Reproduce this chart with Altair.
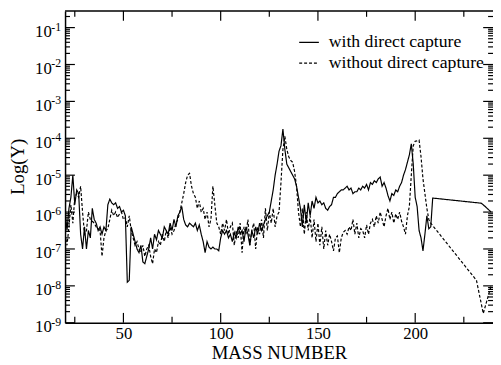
import altair as alt
import pandas as pd

FONT = "Liberation Serif"

# mass numbers start
A0 = 20
# log10(Y), "with direct capture", A = 20 .. 209
solid_log = [
    -6.0, -6.5, -5.9, -5.6, -5.0, -5.8, -5.4, -5.5, -6.6, -7.0,
    -6.4, -7.0, -6.5, -6.7, -5.9, -6.2, -6.3, -6.5, -6.4, -6.6,
    -6.4, -6.5, -5.8, -5.65, -5.75, -5.8, -5.75, -5.9, -5.85, -6.0,
    -5.95, -6.1, -7.9, -7.85, -6.4, -6.6, -6.8, -7.0, -7.1, -6.9,
    -7.35, -7.4, -7.2, -7.0, -6.7, -7.0, -6.6, -6.75, -6.5, -6.6,
    -6.7, -6.4, -6.5, -6.6, -6.3, -6.5, -6.2, -6.4, -6.1, -6.0,
    -5.85, -6.2, -6.35, -6.4, -6.3, -6.35, -6.4, -6.3, -6.5, -6.35,
    -6.6, -6.8, -7.1, -6.8, -6.95, -7.0, -6.95, -7.0, -7.0, -7.05,
    -6.7, -6.5, -6.6, -6.5, -6.7, -6.6, -6.8, -6.55, -6.7, -6.4,
    -6.6, -6.5, -6.8, -6.4, -6.6, -6.9, -6.5, -6.7, -6.4, -6.6,
    -6.3, -6.5, -6.35, -6.2, -6.1, -6.0, -5.7, -5.4, -5.0, -4.7,
    -4.35, -4.2, -3.75, -4.3, -4.7, -4.8, -4.9, -5.0, -5.1, -5.3,
    -5.6, -5.9, -6.4, -5.8, -6.3, -5.75, -6.1, -5.7, -5.9, -5.6,
    -5.75, -5.7, -5.8, -5.75, -5.9, -5.95, -5.85, -5.8, -5.6, -5.6,
    -5.5, -5.45, -5.4, -5.4, -5.35, -5.3, -5.4, -5.35, -5.5, -5.45,
    -5.45, -5.35, -5.4, -5.3, -5.35, -5.25, -5.4, -5.2, -5.25, -5.15,
    -5.2, -5.1, -5.05, -5.3, -5.2, -5.35, -5.55, -5.7, -5.5, -5.55,
    -5.4, -5.45, -5.3, -5.2, -5.0, -4.85, -4.65, -4.45, -4.15, -4.7,
    -5.6, -5.85, -6.5, -6.7, -7.05, -6.6, -6.1, -6.45, -6.4, -5.62,
]
solid_tail_A = [234, 236, 239]
solid_tail_log = [-5.76, -5.85, -6.0]

# log10(Y), "without direct capture", A = 20 .. 208
dashed_log = [
    -6.6, -6.9, -6.4, -5.8, -6.3, -5.6, -5.5, -5.6, -5.3, -6.0,
    -6.6, -6.5, -6.0, -6.2, -6.25, -6.3, -6.4, -6.45, -6.5, -7.2,
    -6.7, -6.5, -6.45, -6.2, -5.95, -6.1, -6.0, -6.15, -6.05, -6.0,
    -6.2, -6.15, -6.4, -6.1, -6.5, -6.7, -6.9, -6.8, -7.0, -7.1,
    -6.9, -7.2, -7.0, -6.9, -7.2, -7.4, -7.0, -7.1, -6.8, -6.9,
    -6.6, -6.8, -6.5, -6.7, -6.4, -6.6, -6.5, -6.3, -6.2, -6.0,
    -5.75, -5.5, -5.2, -5.0, -4.95, -5.3, -5.5, -5.6, -5.9, -5.7,
    -6.0, -5.9, -6.2, -6.0, -6.4, -6.2, -5.3, -5.8, -6.3, -6.4,
    -6.6, -6.3, -6.5, -6.2, -6.6, -6.4, -6.3, -6.9, -6.5, -6.7,
    -6.3, -7.1, -6.4, -6.6, -6.2, -6.9, -6.5, -6.3, -7.0, -6.4,
    -6.6, -6.2, -6.7, -5.9, -6.5, -6.0, -6.3, -5.9, -6.4, -6.1,
    -6.0, -5.2, -4.3, -3.95, -4.3, -4.5, -4.6, -4.65, -4.9, -5.3,
    -6.0, -6.4, -5.9, -6.6, -6.0, -6.5, -6.1, -6.7, -6.2, -6.8,
    -6.3, -6.9, -6.4, -7.0, -6.5, -6.9, -6.6, -6.8, -7.05, -6.7,
    -6.65, -7.1, -6.7, -6.55, -6.5, -6.6, -6.4, -6.5, -6.2, -6.6,
    -6.3, -6.7, -6.45, -6.5, -6.7, -6.35, -6.6, -6.3, -6.2, -6.4,
    -6.1, -6.3, -6.0, -6.2, -6.4, -6.1, -5.9, -6.2, -6.0, -6.3,
    -6.05, -6.2, -6.0, -6.25, -6.4, -6.6, -6.1, -5.85, -5.0, -4.2,
    -4.08, -4.07, -4.05, -4.5, -5.1, -5.5, -5.9, -6.2, -6.3,
]
dashed_tail_A = [231.5, 235, 239]
dashed_tail_log = [-7.85, -8.75, -8.0]

SERIES = ["with direct capture", "without direct capture"]
x_major = [50, 100, 150, 200]
x_minor = [25, 75, 125, 175, 225]
y_exps = [-9, -8, -7, -6, -5, -4, -3, -2, -1]
y_minor_mult = [2, 3, 4, 5, 6, 7, 8, 9]

W, H = 435, 317
Y_TOP = 10 ** -0.547

rows = []
for i, v in enumerate(solid_log):
    rows.append({"A": A0 + i, "Y": 10 ** v, "series": SERIES[0]})
for a, v in zip(solid_tail_A, solid_tail_log):
    rows.append({"A": a, "Y": 10 ** v, "series": SERIES[0]})
for i, v in enumerate(dashed_log):
    rows.append({"A": A0 + i, "Y": 10 ** v, "series": SERIES[1]})
for a, v in zip(dashed_tail_A, dashed_tail_log):
    rows.append({"A": a, "Y": 10 ** v, "series": SERIES[1]})
df = pd.DataFrame(rows)

xs = alt.Scale(domain=[20, 240], nice=False, zero=False)
ys = alt.Scale(type="log", domain=[1e-9, Y_TOP], nice=False)

lines = alt.Chart(df).mark_line(color="black", strokeWidth=1.2, clip=True).encode(
    x=alt.X("A:Q", scale=xs, axis=alt.Axis(
        values=x_major, title="MASS NUMBER", ticks=False, tickSize=0,
        labelPadding=3, titleBaseline="alphabetic", titleY=36)),
    y=alt.Y("Y:Q", scale=ys, axis=alt.Axis(
        values=[10.0 ** e for e in y_exps], labelExpr="'10'", title="Log(Y)",
        ticks=False, tickSize=0, labelPadding=14, labelOffset=4, labelBaseline="middle",
        titleAngle=270, titleBaseline="middle", titleAlign="center",
        titleX=-48, titleY=158)),
    strokeDash=alt.StrokeDash("series:N", scale=alt.Scale(domain=SERIES, range=[[1, 0], [3, 2]]),
        legend=alt.Legend(orient="none", legendX=237, legendY=21, title=None)),
)

xmaj = pd.DataFrame({"A": x_major})
xmin = pd.DataFrame({"A": x_minor})
ymaj = pd.DataFrame({"Y": [10.0 ** e for e in y_exps], "e": [str(e) for e in y_exps]})
ymin = pd.DataFrame({"Y": [m * 10.0 ** e for e in y_exps for m in y_minor_mult
                           if m * 10.0 ** e <= Y_TOP]})

def xticks(d, L):
    base = alt.Chart(d).mark_rule(color="black", strokeWidth=1.2)
    return [base.encode(x=alt.X("A:Q", scale=xs), y=alt.value(H), y2=alt.value(H - L)),
            base.encode(x=alt.X("A:Q", scale=xs), y=alt.value(0), y2=alt.value(L))]

def yticks(d, L):
    base = alt.Chart(d).mark_rule(color="black", strokeWidth=1.2)
    return [base.encode(y=alt.Y("Y:Q", scale=ys), x=alt.value(0), x2=alt.value(L)),
            base.encode(y=alt.Y("Y:Q", scale=ys), x=alt.value(W), x2=alt.value(W - L))]

top_border = alt.Chart(pd.DataFrame({"k": [0]})).mark_rule(color="black", strokeWidth=1.5).encode(
    x=alt.value(0), x2=alt.value(W), y=alt.value(0))

exps = alt.Chart(ymaj).mark_text(font=FONT, fontSize=12, align="left", baseline="middle",
                                 color="black", dy=-1).encode(
    y=alt.Y("Y:Q", scale=ys), x=alt.value(-14), text="e:N")

layers = [lines, top_border, exps] + xticks(xmaj, 10) + xticks(xmin, 6) + yticks(ymaj, 10) + yticks(ymin, 5)

chart = alt.layer(*layers).properties(
    width=W, height=H,
    autosize=alt.AutoSizeParams(type="none"),
    padding={"left": 58, "top": 0, "right": 0, "bottom": 40},
).configure_view(
    strokeWidth=0
).configure_axis(
    labelFont=FONT, labelFontSize=17, labelColor="black",
    titleFont=FONT, titleFontSize=19, titleFontWeight="normal", titleColor="black",
    domainColor="black", domainWidth=1.5, grid=False,
).configure_legend(
    labelFont=FONT, labelFontSize=18, labelColor="black", labelLimit=400,
    symbolType="stroke", symbolSize=400, symbolStrokeWidth=1.2, symbolStrokeColor="black",
    labelOffset=9, rowPadding=1, padding=0,
).configure_text(font=FONT)

chart.save("out.html", embed_options={"renderer": "svg", "actions": False})
